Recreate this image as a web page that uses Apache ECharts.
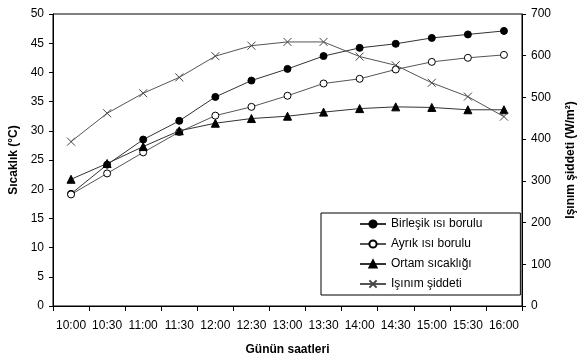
<!DOCTYPE html>
<html>
<head>
<meta charset="utf-8">
<script src="https://cdn.jsdelivr.net/npm/echarts@6/dist/echarts.min.js"></script>
<style>
  html, body { margin: 0; padding: 0; background: #fff; }
  #chart { width: 578px; height: 356px; }
</style>
</head>
<body>
<div id="chart"></div>
<script>
// time of day
var hours = ["10:00", "10:30", "11:00", "11:30", "12:00", "12:30", "13:00",
  "13:30", "14:00", "14:30", "15:00", "15:30", "16:00"];
// temperatures (°C)
var birlesik = [19.2, 24.2, 28.5, 31.7, 35.8, 38.6, 40.6, 42.8, 44.2, 44.9, 45.9, 46.5, 47.1];
var ayrik = [19.1, 22.7, 26.3, 29.8, 32.6, 34.1, 36.0, 38.1, 38.9, 40.5, 41.8, 42.5, 43.0];
var ortam = [21.7, 24.4, 27.3, 30.0, 31.3, 32.1, 32.5, 33.2, 33.8, 34.1, 34.0, 33.6, 33.6];
// solar radiation (W/m2)
var isinim = [394, 462, 510, 548, 599, 624, 633, 633, 598, 577, 535, 502, 454];

var font = "Liberation Sans, Arial, sans-serif";
var crossPath = "path://M0,0L10,10M10,0L0,10";

var chart = echarts.init(document.getElementById("chart"));

function lineSeries(name, data, symbol, size, fill, lineColor, axis) {
  return {
    name: name,
    type: "line",
    yAxisIndex: axis,
    data: data,
    symbol: symbol,
    symbolSize: size,
    showAllSymbol: true,
    lineStyle: { color: lineColor, width: 1 },
    itemStyle: { color: fill, borderColor: "#000", borderWidth: 1 },
    emphasis: { disabled: true }
  };
}

var s4 = lineSeries("Işınım şiddeti", isinim, crossPath, 8, "none", "#555", 1);
s4.itemStyle = { color: "none", borderColor: "#444", borderWidth: 1 };

chart.setOption({
  backgroundColor: "#fff",
  animation: false,
  textStyle: { fontFamily: font },
  grid: {
    left: 53, right: 56, top: 14, bottom: 50,
    outerBoundsMode: "none",
    show: true, borderColor: "#000", borderWidth: 1
  },
  legend: {
    orient: "vertical",
    left: 321, top: 213,
    padding: [4, 38, 4, 38],
    itemWidth: 26, itemHeight: 9, itemGap: 6,
    backgroundColor: "#fff",
    borderColor: "#000", borderWidth: 1,
    textStyle: { fontFamily: font, fontSize: 12, color: "#000", lineHeight: 14 },
    data: ["Birleşik ısı borulu", "Ayrık ısı borulu", "Ortam sıcaklığı", "Işınım şiddeti"]
  },
  xAxis: {
    type: "category",
    data: hours,
    boundaryGap: true,
    name: "Günün saatleri",
    nameLocation: "middle",
    nameGap: 38,
    nameTextStyle: { fontFamily: font, fontSize: 12, fontWeight: "bold", color: "#000" },
    axisLine: { lineStyle: { color: "#000", width: 1 } },
    axisTick: { show: true, length: 5, lineStyle: { color: "#000" } },
    axisLabel: { fontFamily: font, fontSize: 12, color: "#000", margin: 14, interval: 0 },
    splitLine: { show: false }
  },
  yAxis: [
    {
      type: "value",
      min: 0, max: 50, interval: 5,
      name: "Sıcaklık (°C)",
      nameLocation: "middle",
      nameRotate: 90,
      nameGap: 33,
      nameTextStyle: { fontFamily: font, fontSize: 12, fontWeight: "bold", color: "#000" },
      axisLine: { show: true, lineStyle: { color: "#000" } },
      axisTick: { show: true, length: 4, lineStyle: { color: "#000" } },
      axisLabel: { fontFamily: font, fontSize: 12, color: "#000", margin: 9 },
      splitLine: { show: false }
    },
    {
      type: "value",
      min: 0, max: 700, interval: 100,
      position: "right",
      name: "Işınım şiddeti (W/m²)",
      nameLocation: "middle",
      nameRotate: 90,
      nameGap: 43,
      nameTextStyle: { fontFamily: font, fontSize: 12, fontWeight: "bold", color: "#000" },
      axisLine: { show: true, lineStyle: { color: "#000" } },
      axisTick: { show: true, length: 4, lineStyle: { color: "#000" } },
      axisLabel: { fontFamily: font, fontSize: 12, color: "#000", margin: 9 },
      splitLine: { show: false }
    }
  ],
  series: [
    lineSeries("Birleşik ısı borulu", birlesik, "circle", 7, "#000", "#333", 0),
    lineSeries("Ayrık ısı borulu", ayrik, "circle", 7, "#fff", "#555", 0),
    lineSeries("Ortam sıcaklığı", ortam, "triangle", 8, "#000", "#333", 0),
    s4
  ]
});
</script>
</body>
</html>
